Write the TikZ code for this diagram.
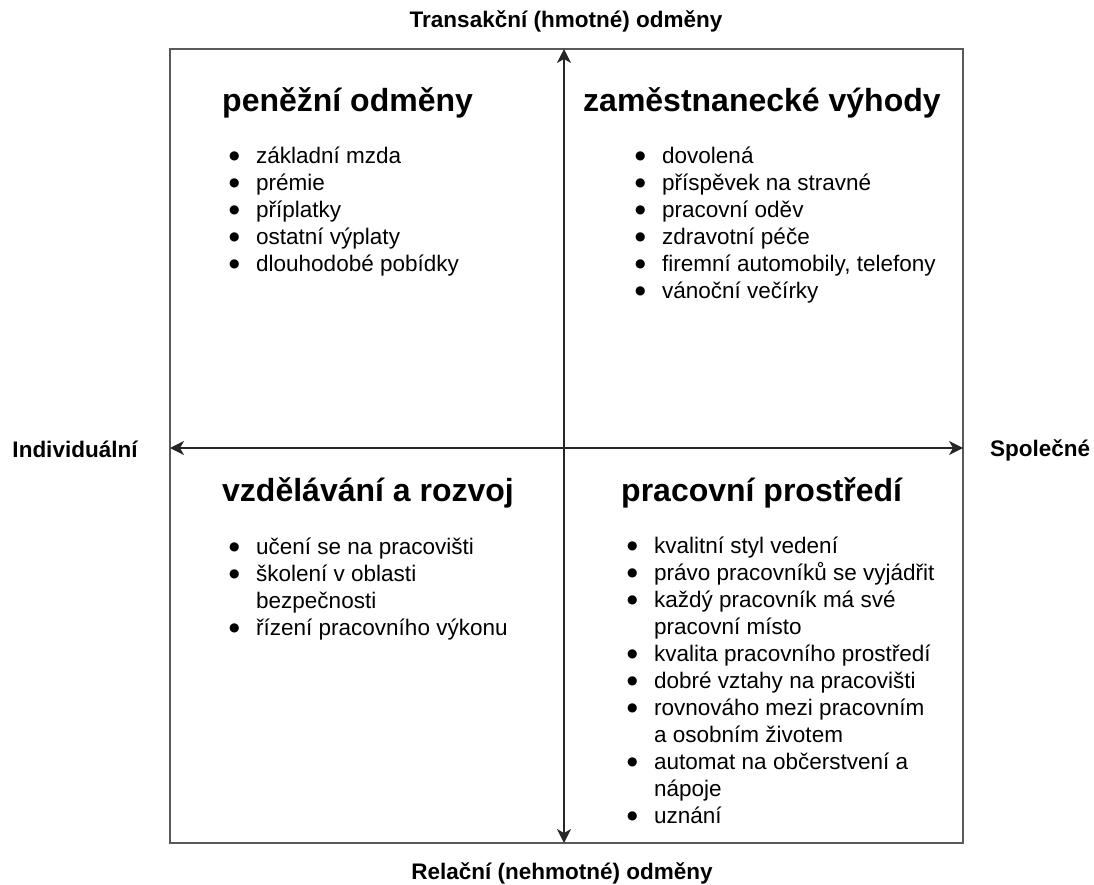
\documentclass[tikz,border=0pt]{standalone}
\usepackage{fontspec}
\setmainfont{Liberation Sans}
\newfontfamily\symboly{DejaVu Sans}
\usetikzlibrary{arrows.meta}

% odrážka a seznam
\newcommand{\odr}{\makebox[27pt][l]{\raisebox{4pt}{\symboly\fontsize{12}{12}\selectfont ●}}}
\newcommand{\polozky}[1]{{\fontsize{22.5}{27}\selectfont\begin{tabular}[t]{@{}l@{}l@{}}#1\end{tabular}}}

\tikzset{
  nadpis/.style={font=\fontsize{32}{38}\selectfont\bfseries, inner sep=0pt, anchor=base west},
  osa/.style={font=\fontsize{22.5}{27}\selectfont\bfseries, inner sep=0pt},
  seznam/.style={inner sep=0pt, anchor=base west},
  sipka/.style={<->, >={Stealth[length=14pt,width=14pt,inset=4pt]}, line width=1.4pt, black!85},
}

\begin{document}
\begin{tikzpicture}[x=1pt,y=-1pt]
    \useasboundingbox (0,0) rectangle (1094,885);
    % Rámec
    \node[draw=black!65, line width=1.4pt, minimum width=793pt, minimum height=794pt, inner sep=0pt] (ramec) at (566.5,446) {};
    % Osy
    \coordinate (osaN) at (564,49);
    \coordinate (osaS) at (564,843);
    \coordinate (osaW) at (170,448);
    \coordinate (osaE) at (963,448);
    \draw[sipka] (osaN) -- (osaS);
    \draw[sipka] (osaW) -- (osaE);
    % Popisy os
    \node[osa] (transakcni) at (566,21) {Transakční (hmotné) odměny};
    \node[osa] (relacni) at (562,873) {Relační (nehmotné) odměny};
    \node[osa] (individualni) at (75,449) {Individuální};
    \node[osa] (spolecne) at (1040,450) {Společné};
    % Nadpisy
    \node[nadpis] (penezni) at (222,112) {peněžní odměny};
    \node[nadpis] (vyhody) at (583,112) {zaměstnanecké výhody};
    \node[nadpis] (rozvoj) at (222,501) {vzdělávání a rozvoj};
    \node[nadpis] (prostredi) at (621,501) {pracovní prostředí};
    % Seznamy
    \node[seznam] (seznamA) at (229,164) {\polozky{
        \odr & základní mzda\\
        \odr & prémie\\
        \odr & příplatky\\
        \odr & ostatní výplaty\\
        \odr & dlouhodobé pobídky}};
    \node[seznam] (seznamB) at (635,164) {\polozky{
        \odr & dovolená\\
        \odr & příspěvek na stravné\\
        \odr & pracovní oděv\\
        \odr & zdravotní péče\\
        \odr & firemní automobily, telefony\\
        \odr & vánoční večírky}};
    \node[seznam] (seznamC) at (229,554) {\polozky{
        \odr & učení se na pracovišti\\
        \odr & školení v oblasti\\
             & bezpečnosti\\
        \odr & řízení pracovního výkonu}};
    \node[seznam] (seznamD) at (627,553) {\polozky{
        \odr & kvalitní styl vedení\\
        \odr & právo pracovníků se vyjádřit\\
        \odr & každý pracovník má své\\
             & pracovní místo\\
        \odr & kvalita pracovního prostředí\\
        \odr & dobré vztahy na pracovišti\\
        \odr & rovnováho mezi pracovním\\
             & a osobním životem\\
        \odr & automat na občerstvení a\\
             & nápoje\\
        \odr & uznání}};
\end{tikzpicture}
\end{document}
